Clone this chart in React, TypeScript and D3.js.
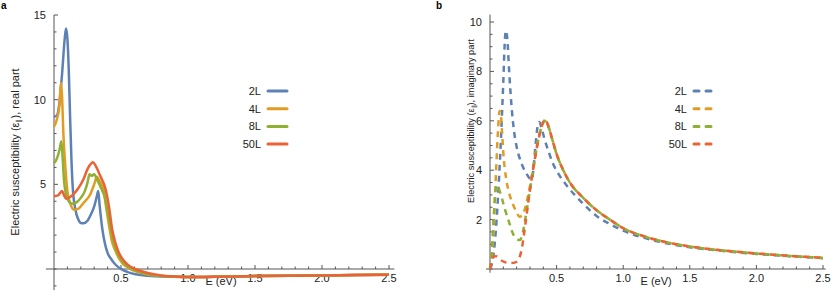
import React from 'react';
import * as d3 from 'd3';

type Pt = [number, number];

const series = ['2L', '4L', '8L', '50L'];
const colors = ['#5E81B5', '#E19C24', '#8FB032', '#EB6235'];

// panel a: real part
const realTail: Pt[] = [[1.2, -0.46], [1.5, -0.42], [2.0, -0.38], [2.5, -0.34]];
const real2L: Pt[] = [[0, 9.0], [0.02, 9.05], [0.04, 9.8], [0.06, 11.5], [0.08, 13.6], [0.09, 14.2], [0.1, 13.6], [0.11, 11.8], [0.12, 9], [0.13, 6.5], [0.14, 4.8], [0.16, 3.5], [0.18, 2.95], [0.2, 2.72], [0.22, 2.7], [0.25, 2.85], [0.28, 3.3], [0.3, 3.7], [0.32, 4.3], [0.33, 4.6], [0.34, 3.8], [0.36, 2.4], [0.38, 1.5], [0.4, 0.95], [0.43, 0.55], [0.46, 0.25], [0.5, 0.0], [0.55, -0.18], [0.6, -0.3], [0.7, -0.4], [0.8, -0.45], [1.0, -0.47]];
const real4L: Pt[] = [[0, 8.4], [0.02, 8.8], [0.04, 9.6], [0.052, 11.0], [0.06, 10.2], [0.07, 8.0], [0.085, 6.0], [0.1, 4.6], [0.12, 3.9], [0.15, 3.5], [0.18, 3.55], [0.22, 3.9], [0.27, 4.4], [0.3, 5.0], [0.32, 5.45], [0.34, 5.2], [0.37, 4.65], [0.39, 3.6], [0.41, 2.6], [0.43, 1.7], [0.46, 1.05], [0.48, 0.7], [0.51, 0.35], [0.54, 0.14], [0.58, -0.05], [0.62, -0.16], [0.7, -0.32], [0.8, -0.42], [1.0, -0.47]];
const real8L: Pt[] = [[0, 6.25], [0.02, 6.5], [0.04, 7.0], [0.055, 7.55], [0.065, 6.5], [0.075, 5.2], [0.09, 4.4], [0.11, 4.0], [0.135, 3.85], [0.17, 3.95], [0.2, 4.2], [0.23, 4.6], [0.25, 5.1], [0.265, 5.6], [0.28, 5.5], [0.3, 5.6], [0.32, 5.3], [0.35, 4.8], [0.38, 4.2], [0.4, 3.4], [0.42, 2.5], [0.445, 1.55], [0.48, 0.85], [0.51, 0.45], [0.55, 0.15], [0.6, -0.05], [0.65, -0.2], [0.7, -0.3], [0.8, -0.42], [1.0, -0.47]];
const real50L: Pt[] = [[0, 4.3], [0.03, 4.35], [0.06, 4.6], [0.075, 4.35], [0.09, 4.15], [0.12, 4.25], [0.15, 4.45], [0.18, 4.75], [0.22, 5.3], [0.25, 5.9], [0.28, 6.25], [0.29, 6.3], [0.31, 6.1], [0.345, 5.5], [0.385, 4.7], [0.41, 3.7], [0.435, 2.3], [0.46, 1.5], [0.485, 0.95], [0.52, 0.5], [0.55, 0.26], [0.6, 0.02], [0.65, -0.12], [0.7, -0.24], [0.8, -0.38], [0.9, -0.44], [1.0, -0.47]];

// panel b: imaginary part (2L has its own tail, the others share one)
const imagTail: Pt[] = [[0.6, 3.5], [0.7, 2.88], [0.8, 2.38], [0.9, 2.0], [1.0, 1.65], [1.1, 1.42], [1.2, 1.25], [1.3, 1.11], [1.4, 1.0], [1.5, 0.91], [1.75, 0.75], [2.0, 0.63], [2.25, 0.53], [2.5, 0.45]];
const imag2L: Pt[] = [[0, 0], [0.02, 0.35], [0.04, 1.3], [0.06, 2.9], [0.08, 5.0], [0.1, 7.6], [0.112, 9.3], [0.12, 9.65], [0.13, 9.3], [0.145, 7.9], [0.163, 6.5], [0.18, 5.6], [0.2, 4.95], [0.225, 4.45], [0.25, 4.1], [0.275, 3.85], [0.3, 3.65], [0.315, 3.62], [0.33, 4.3], [0.345, 5.2], [0.36, 5.85], [0.37, 5.95], [0.385, 5.75], [0.41, 5.25], [0.44, 4.75], [0.47, 4.3], [0.52, 3.8], [0.58, 3.35], [0.68, 2.75], [0.8, 2.15], [0.9, 1.82], [1.0, 1.55], [1.2, 1.2], [1.5, 0.88], [1.75, 0.73], [2.0, 0.61], [2.25, 0.52], [2.5, 0.44]];
const imag4L: Pt[] = [[0, 0], [0.015, 0.6], [0.03, 2.0], [0.045, 3.9], [0.06, 5.6], [0.072, 6.4], [0.08, 6.3], [0.09, 5.6], [0.1, 4.7], [0.12, 3.7], [0.14, 3.15], [0.17, 2.65], [0.2, 2.3], [0.22, 2.12], [0.24, 2.15], [0.27, 2.6], [0.3, 3.35], [0.33, 4.3], [0.36, 5.2], [0.39, 5.8], [0.415, 6.05], [0.44, 5.75], [0.47, 5.2], [0.5, 4.65], [0.55, 4.0]];
const imag8L: Pt[] = [[0, 0], [0.015, 0.9], [0.03, 2.3], [0.045, 3.3], [0.055, 3.4], [0.07, 3.2], [0.09, 2.85], [0.113, 2.4], [0.14, 1.95], [0.175, 1.4], [0.2, 1.22], [0.225, 1.17], [0.245, 1.45], [0.27, 2.2], [0.3, 3.2], [0.33, 4.2], [0.36, 5.15], [0.39, 5.8], [0.41, 6.0], [0.44, 5.75], [0.47, 5.2], [0.5, 4.65], [0.55, 4.0]];
const imag50L: Pt[] = [[0, 0], [0.01, 0.25], [0.025, 0.5], [0.045, 0.52], [0.075, 0.38], [0.11, 0.28], [0.15, 0.24], [0.19, 0.27], [0.215, 0.4], [0.238, 0.8], [0.26, 1.6], [0.28, 2.4], [0.3, 3.2], [0.34, 4.55], [0.375, 5.5], [0.395, 5.9], [0.413, 6.05], [0.44, 5.75], [0.47, 5.2], [0.5, 4.65], [0.55, 4.0]];

const xTickLabels = [0.5, 1.0, 1.5, 2.0, 2.5];
const yTickLabelsA = [5, 10, 15];
const yTickLabelsB = [2, 4, 6, 8, 10];

const realData = [real2L, real4L, real8L, real50L].map(s => s.concat(realTail));
const imagData = [imag2L, imag4L.concat(imagTail), imag8L.concat(imagTail), imag50L.concat(imagTail)];

const font = 'Arial, "Liberation Sans", sans-serif';

interface PanelProps {
  x: d3.ScaleLinear<number, number>;
  y: d3.ScaleLinear<number, number>;
  xExt: [number, number];
  yExt: [number, number];
  yMinor: number;
  yLabels: number[];
  data: Pt[][];
  dashed: boolean;
  title: string;
  titleX: number;
  titleY: number;
  titleSize: number;
  legendRight: number;
  tag: string;
  tagX: number;
}

const Panel: React.FC<PanelProps> = ({ x, y, xExt, yExt, yMinor, yLabels, data, dashed, title, titleX, titleY, titleSize, legendRight, tag, tagX }) => {
  const line = d3.line<Pt>().x(d => x(d[0])).y(d => y(d[1])).curve(d3.curveMonotoneX);
  const x0 = x(0);
  const y0 = y(0);
  const xMinor = d3.range(0.1, 2.501, 0.1);
  const yMin = d3.range(Math.ceil(yExt[0] / yMinor) * yMinor, yExt[1] + 1e-6, yMinor);
  return (
    <g fontFamily={font}>
      <text x={tagX} y={9} fontSize={10} fontWeight="bold" fill="#000">{tag}</text>
      {/* axes */}
      <line x1={x(xExt[0])} x2={x(xExt[1])} y1={y0} y2={y0} stroke="#555" strokeWidth={1} />
      <line x1={x0} x2={x0} y1={y(yExt[0])} y2={y(yExt[1])} stroke="#555" strokeWidth={1} />
      {xMinor.map((t, i) => {
        const major = Math.abs(t * 2 - Math.round(t * 2)) < 1e-6;
        return <line key={'xt' + i} x1={x(t)} x2={x(t)} y1={y0} y2={y0 - (major ? 4 : 2.5)} stroke="#555" />;
      })}
      {yMin.map((t, i) => {
        const major = yLabels.includes(Math.round(t * 100) / 100);
        return <line key={'yt' + i} x1={x0} x2={x0 + (major ? 4 : 2.5)} y1={y(t)} y2={y(t)} stroke="#555" />;
      })}
      {xTickLabels.map(t => (
        <text key={'xl' + t} x={x(t)} y={y0 + 13} fontSize={11} textAnchor="middle" fill="#222">{t.toFixed(1)}</text>
      ))}
      {yLabels.map(t => (
        <text key={'yl' + t} x={x0 - 8} y={y(t) + 4} fontSize={11} textAnchor="end" fill="#222">{t}</text>
      ))}
      <text x={x(1.13)} y={y0 + 16} fontSize={11} fill="#222">E (eV)</text>
      <text transform={`translate(${titleX},${titleY}) rotate(-90)`} fontSize={titleSize} textAnchor="middle" fill="#222">
        Electric susceptibility (ε<tspan fontSize={titleSize * 0.6} dy={2}>∥</tspan><tspan dy={-2}>), {title}</tspan>
      </text>
      {/* curves */}
      {data.map((s, i) => (
        <path key={'c' + i} d={line(s) || ''} fill="none" stroke={colors[i]} strokeWidth={2.5}
          strokeDasharray={dashed ? '6,5' : undefined} strokeLinejoin="round" />
      ))}
      {/* legend */}
      {series.map((name, i) => {
        const ly = 91 + i * 17.7;
        return (
          <g key={'lg' + name}>
            <text x={legendRight} y={ly + 4} fontSize={11} textAnchor="end" fill="#222">{name}</text>
            <line x1={legendRight + 7} x2={legendRight + 26} y1={ly} y2={ly} stroke={colors[i]} strokeWidth={3}
              strokeLinecap="round" strokeDasharray={dashed ? '5,7' : undefined} />
          </g>
        );
      })}
    </g>
  );
};

const App: React.FC = () => {
  const xA = d3.scaleLinear().domain([0, 2.5]).range([54, 389]);
  const yA = d3.scaleLinear().domain([0, 15]).range([269, 15]);
  const xB = d3.scaleLinear().domain([0, 2.5]).range([490, 823]);
  const yB = d3.scaleLinear().domain([0, 10]).range([269, 22]);
  return (
    <svg width={831} height={294} style={{ position: 'fixed', left: 0, top: 0, background: '#fff' }}>
      <Panel x={xA} y={yA} xExt={[-0.06, 2.54]} yExt={[-1.25, 15]} yMinor={1} yLabels={yTickLabelsA}
        data={realData} dashed={false} title="real part" titleX={19} titleY={152} titleSize={11}
        legendRight={261} tag="a" tagX={1} />
      <Panel x={xB} y={yB} xExt={[-0.03, 2.52]} yExt={[-0.15, 10.3]} yMinor={0.5} yLabels={yTickLabelsB}
        data={imagData} dashed={true} title="imaginary part" titleX={474} titleY={121} titleSize={9.2}
        legendRight={687} tag="b" tagX={436} />
    </svg>
  );
};

export default App;
